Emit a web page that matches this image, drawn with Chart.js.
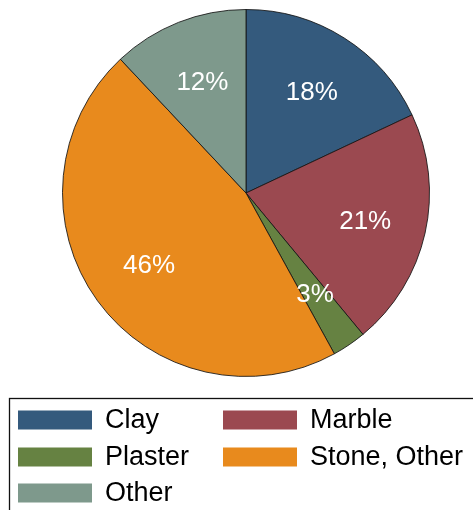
<!DOCTYPE html>
<html>
<head>
<meta charset="utf-8">
<script src="https://cdn.jsdelivr.net/npm/chart.js@4/dist/chart.umd.min.js"></script>
<style>
  html, body { margin: 0; padding: 0; background: #ffffff; }
  #wrap { position: relative; width: 473px; height: 510px; }
</style>
</head>
<body>
<div id="wrap"><canvas id="c" width="473" height="510"></canvas></div>
<script>
const categories = ["Clay", "Marble", "Plaster", "Stone, Other", "Other"];
const shares = [18, 21, 3, 46, 12];
const sliceColors = ["#345a7d", "#9b4950", "#668242", "#e88a1d", "#7e998c"];

const FONT = "Arial, 'Liberation Sans', Helvetica, sans-serif";

const sliceLabels = {
  id: "sliceLabels",
  afterDatasetsDraw(chart) {
    const ctx = chart.ctx;
    const meta = chart.getDatasetMeta(0);
    ctx.save();
    ctx.fillStyle = "#ffffff";
    ctx.font = "26px " + FONT;
    ctx.textAlign = "center";
    ctx.textBaseline = "middle";
    meta.data.forEach((arc, i) => {
      const p = arc.getProps(["x", "y", "startAngle", "endAngle", "outerRadius"], true);
      const mid = (p.startAngle + p.endAngle) / 2;
      const r = p.outerRadius * 0.66;
      ctx.fillText(shares[i] + "%", p.x + 1 + Math.cos(mid) * r, p.y + 2 + Math.sin(mid) * r);
    });
    ctx.restore();
  }
};

const boxLegend = {
  id: "boxLegend",
  afterDraw(chart) {
    const ctx = chart.ctx;
    ctx.save();
    ctx.strokeStyle = "#111111";
    ctx.lineWidth = 1.3;
    ctx.strokeRect(9.5, 398.5, 520, 200);
    const colX = [18, 223];
    const rowY = [420, 457, 493];
    ctx.font = "27px " + FONT;
    ctx.textBaseline = "middle";
    ctx.textAlign = "left";
    categories.forEach((name, i) => {
      const cx = colX[i % 2];
      const cy = rowY[Math.floor(i / 2)];
      ctx.fillStyle = sliceColors[i];
      ctx.fillRect(cx, cy - 9.5, 74, 19);
      ctx.fillStyle = "#000000";
      ctx.fillText(name, cx + 87, cy + 1);
    });
    ctx.restore();
  }
};

new Chart(document.getElementById("c"), {
  type: "pie",
  data: {
    labels: categories,
    datasets: [{
      data: shares,
      backgroundColor: sliceColors,
      borderColor: "rgba(20,20,20,0.85)",
      borderWidth: 1
    }]
  },
  options: {
    responsive: false,
    animation: false,
    events: [],
    layout: { padding: { left: 62, right: 43, top: 9, bottom: 133 } },
    plugins: {
      legend: { display: false },
      tooltip: { enabled: false },
      title: { display: false }
    }
  },
  plugins: [sliceLabels, boxLegend]
});
</script>
</body>
</html>
